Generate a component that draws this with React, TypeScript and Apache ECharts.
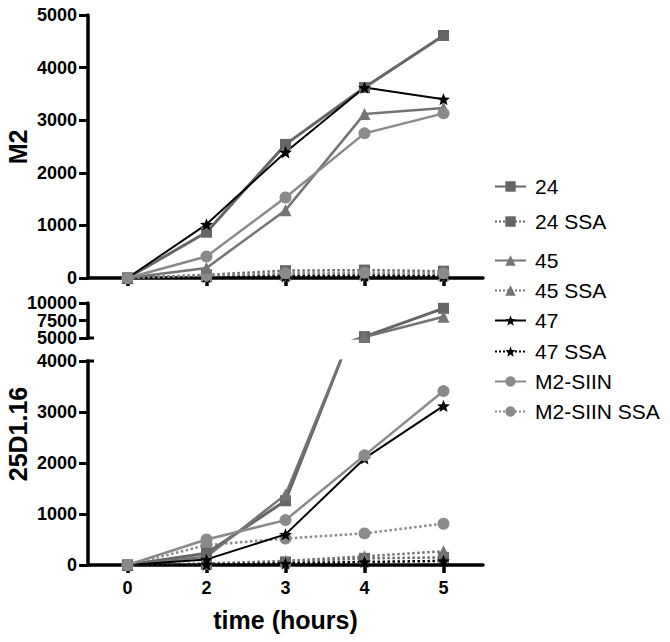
import React, { useEffect, useRef } from "react";
import * as echarts from "echarts";

const categories = ["0", "2", "3", "4", "5"];
const seriesNames = ["24", "24 SSA", "45", "45 SSA", "47", "47 SSA", "M2-SIIN", "M2-SIIN SSA"];

// M2 panel
const m2_24 = [0, 870, 2540, 3620, 4610];
const m2_24ssa = [0, 60, 140, 150, 130];
const m2_45 = [0, 190, 1290, 3120, 3230];
const m2_45ssa = [0, 40, 60, 70, 60];
const m2_47 = [0, 1020, 2390, 3620, 3400];
const m2_47ssa = [0, 20, 30, 40, 30];
const m2_m2siin = [0, 410, 1530, 2750, 3130];
const m2_m2siinssa = [0, 50, 90, 100, 90];

// 25D1.16 panel
const d_24 = [0, 230, 1260, 5200, 9240];
const d_24ssa = [0, 20, 60, 130, 150];
const d_45 = [0, 160, 1380, 5150, 8040];
const d_45ssa = [0, 30, 80, 170, 270];
const d_47 = [0, 110, 600, 2090, 3120];
const d_47ssa = [0, 10, 30, 60, 80];
const d_m2siin = [0, 500, 880, 2150, 3410];
const d_m2siinssa = [0, 390, 520, 620, 810];

const m2Data = [m2_24, m2_24ssa, m2_45, m2_45ssa, m2_47, m2_47ssa, m2_m2siin, m2_m2siinssa];
const dData = [d_24, d_24ssa, d_45, d_45ssa, d_47, d_47ssa, d_m2siin, d_m2siinssa];

const STAR = "path://M10,0L12.47,6.6L19.51,6.91L14,11.3L15.88,18.09L10,14.2L4.12,18.09L6,11.3L0.49,6.91L7.53,6.6Z";
const FONT = "Liberation Sans";

const styles = [
  { color: "#666666", symbol: "rect", size: 11, type: "solid", width: 3 },
  { color: "#666666", symbol: "rect", size: 11, type: "dotted", width: 2.5 },
  { color: "#747474", symbol: "triangle", size: 12, type: "solid", width: 2.5 },
  { color: "#747474", symbol: "triangle", size: 12, type: "dotted", width: 2.5 },
  { color: "#000000", symbol: STAR, size: 13, type: "solid", width: 2 },
  { color: "#000000", symbol: STAR, size: 13, type: "dotted", width: 2.5 },
  { color: "#8a8a8a", symbol: "circle", size: 12, type: "solid", width: 2.5 },
  { color: "#8a8a8a", symbol: "circle", size: 12, type: "dotted", width: 2.5 },
];

const legendCenters = [183, 218, 257, 287, 317, 348, 378, 408];

const axisLineStyle = { color: "#000", width: 3.5 };
const labelFont = { color: "#000", fontFamily: FONT, fontWeight: "bold", fontSize: 18 };

function yAxisCfg(gridIndex: number, min: number, max: number, interval: number) {
  return {
    type: "value",
    gridIndex,
    position: "left",
    min,
    max,
    interval,
    splitLine: { show: false },
    axisLine: { show: true, lineStyle: axisLineStyle },
    axisTick: { show: true, length: 9, lineStyle: { color: "#000", width: 3 } },
    axisLabel: {
      margin: 11,
      ...labelFont,
      showMinLabel: true,
      showMaxLabel: true,
      formatter: (v: number) => String(v),
    },
  };
}

export default function App() {
  const ref = useRef<HTMLDivElement>(null);
  useEffect(() => {
    if (!ref.current) return;
    const chart = echarts.init(ref.current, undefined, { renderer: "svg" });
    const series: any[] = [];
    const addSet = (data: number[][], xi: number, yi: number) => {
      data.forEach((d, i) => {
        const s = styles[i];
        series.push({
          type: "line",
          name: seriesNames[i],
          xAxisIndex: xi,
          yAxisIndex: yi,
          data: d,
          clip: true,
          symbol: s.symbol,
          symbolSize: s.size,
          symbolKeepAspect: true,
          showAllSymbol: true,
          color: s.color,
          itemStyle: { color: s.color },
          lineStyle: { color: s.color, width: s.width, type: s.type },
          z: s.type === "solid" ? 3 : 2,
        });
      });
    };
    addSet(m2Data, 0, 0);
    addSet(dData, 1, 1);
    addSet(dData, 2, 2);

    const legends = seriesNames.map((n, i) => ({
      data: [n],
      left: 489,
      top: legendCenters[i] - 12,
      orient: "vertical",
      itemWidth: 31,
      itemHeight: 13,
      selectedMode: false,
      textStyle: { fontFamily: FONT, fontSize: 21, color: "#000", padding: [0, 0, 0, 4] },
    }));

    const xBase = {
      type: "category",
      data: categories,
      boundaryGap: true,
      axisLine: { show: true, lineStyle: axisLineStyle, onZero: false },
      axisTick: { show: true, alignWithLabel: true, length: 8, lineStyle: { color: "#000", width: 3.5 } },
      splitLine: { show: false },
    };

    // upper (broken) segment of the 25D1.16 axis: line+ticks, mid label, end labels
    const upperBase = {
      type: "value",
      gridIndex: 2,
      position: "left",
      offset: 0,
      min: 5000,
      max: 10000,
      interval: 2500,
      splitLine: { show: false },
    };
    const upperLine = {
      ...upperBase,
      axisLine: { show: true, lineStyle: axisLineStyle },
      axisTick: { show: true, length: 9, lineStyle: { color: "#000", width: 3 } },
      axisLabel: { show: false },
    };
    const upperMid = {
      ...upperBase,
      axisLine: { show: false },
      axisTick: { show: false },
      axisLabel: {
        margin: 11,
        ...labelFont,
        lineHeight: 16,
        showMinLabel: false,
        showMaxLabel: false,
        formatter: (v: number) => String(v),
      },
    };
    const upperEnds = {
      ...upperBase,
      axisLine: { show: false },
      axisTick: { show: false },
      axisLabel: {
        margin: 11,
        ...labelFont,
        lineHeight: 16,
        showMinLabel: true,
        showMaxLabel: true,
        formatter: (v: number) => (v === 5000 || v === 10000 ? String(v) : ""),
      },
    };

    chart.setOption({
      animation: false,
      backgroundColor: "#fff",
      grid: [
        { left: 88, top: 15, width: 395, height: 263 },
        { left: 88, top: 361, width: 395, height: 204 },
        { left: 88, top: 303, width: 395, height: 35 },
      ],
      xAxis: [
        { ...xBase, gridIndex: 0, axisLabel: { show: false } },
        {
          ...xBase,
          gridIndex: 1,
          name: "time (hours)",
          nameLocation: "middle",
          nameGap: 42,
          nameTextStyle: { fontFamily: FONT, fontWeight: "bold", fontSize: 25, color: "#000" },
          axisLabel: { margin: 14, ...labelFont },
        },
        { ...xBase, gridIndex: 2, show: false },
      ],
      yAxis: [
        yAxisCfg(0, 0, 5000, 1000),
        yAxisCfg(1, 0, 4000, 1000),
        upperLine,
        upperMid,
        upperEnds,
      ],
      legend: legends,
      graphic: [
        {
          type: "text",
          x: 18,
          y: 147,
          rotation: Math.PI / 2,
          style: { text: "M2", font: `bold 25px "${FONT}"`, fill: "#000", align: "center", verticalAlign: "middle" },
        },
        {
          type: "text",
          x: 18,
          y: 434,
          rotation: Math.PI / 2,
          style: { text: "25D1.16", font: `bold 25px "${FONT}"`, fill: "#000", align: "center", verticalAlign: "middle" },
        },
        { type: "line", shape: { x1: 86, y1: 338, x2: 94, y2: 338 }, style: { stroke: "#000", lineWidth: 3 } },
        { type: "line", shape: { x1: 86, y1: 361, x2: 94, y2: 361 }, style: { stroke: "#000", lineWidth: 3 } },
      ],
      series,
    });
    return () => chart.dispose();
  }, []);
  return <div ref={ref} style={{ position: "fixed", left: 0, top: 0, width: 670, height: 642 }} />;
}
